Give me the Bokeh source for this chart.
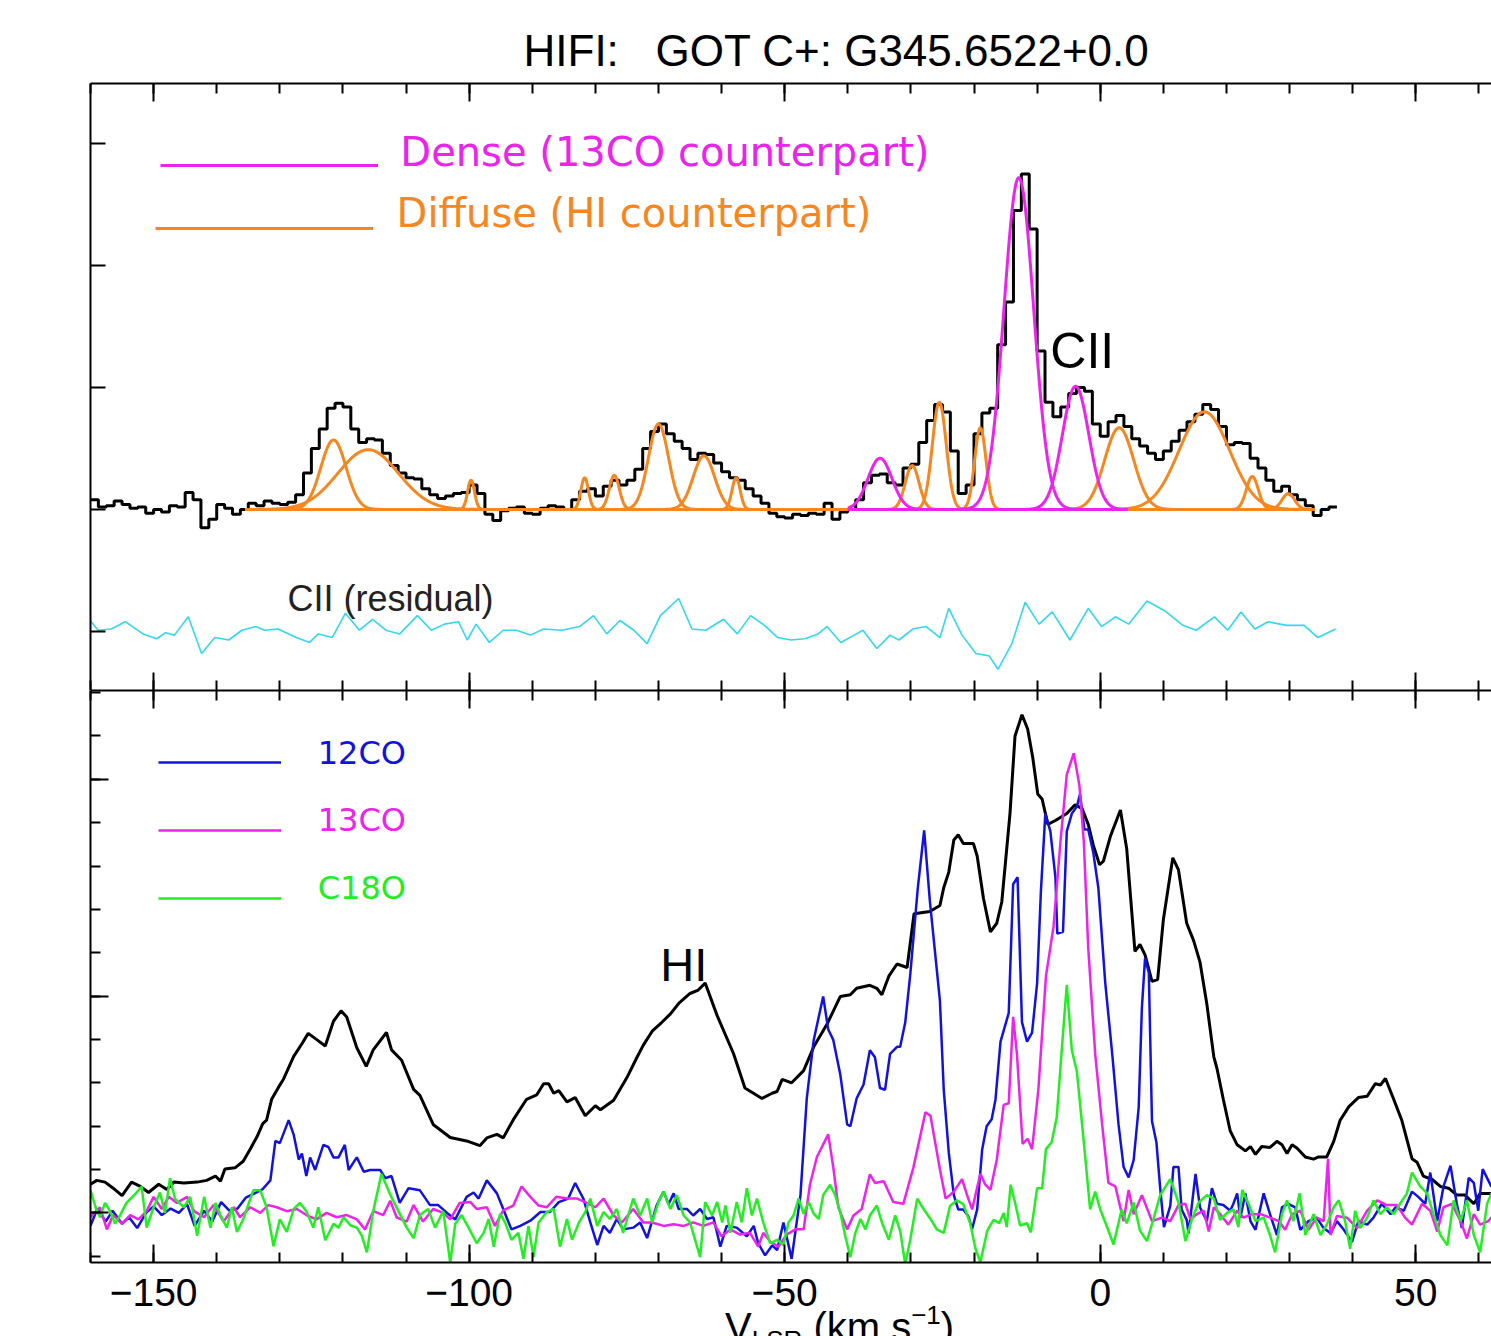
import numpy as np
from bokeh.plotting import figure
from bokeh.layouts import column
from bokeh.models import (LinearAxis, SingleIntervalTicker, Label, Legend,
                          LegendItem, Range1d, Div)
from bokeh.embed import file_html
from bokeh.resources import INLINE

# ---------------- data: top panel (CII) ----------------
cii_v0 = -160.0          # left edge of first channel (km/s)
cii_dv = 1.25            # channel width (km/s)
cii_t = [0.08, 0.02, 0.03, 0.07, 0.04, 0.01, 0.02, -0.03, 0.00, -0.02,
         0.03, 0.02, 0.14, 0.08, -0.15, -0.08, 0.04, 0.01, -0.04, 0.00,
         0.05, 0.03, 0.07, 0.05, 0.04, 0.06, 0.12, 0.30, 0.50, 0.66,
         0.83, 0.87, 0.84, 0.66, 0.55, 0.58, 0.57, 0.46, 0.36, 0.30,
         0.26, 0.25, 0.17, 0.12, 0.09, 0.11, 0.13, 0.14, 0.20, 0.13,
         -0.04, -0.09, -0.01, 0.01, 0.02, -0.03, -0.04, 0.01, 0.03, 0.02,
         0.00, 0.08, 0.15, 0.17, 0.11, 0.19, 0.24, 0.20, 0.24, 0.33,
         0.50, 0.64, 0.70, 0.62, 0.56, 0.50, 0.41, 0.46, 0.45, 0.38,
         0.31, 0.26, 0.24, 0.17, 0.11, 0.05, -0.03, -0.06, -0.07, -0.04,
         -0.05, -0.03, -0.04, 0.05, -0.08, -0.02, 0.00, 0.08, 0.22, 0.28,
         0.29, 0.22, 0.20, 0.34, 0.37, 0.55, 0.73, 0.86, 0.80, 0.48,
         0.13, 0.20, 0.62, 0.79, 0.83, 1.35, 1.70, 2.45, 2.75, 2.30,
         1.30, 0.88, 0.76, 0.84, 0.95, 1.00, 0.97, 0.70, 0.60, 0.72,
         0.77, 0.68, 0.58, 0.52, 0.46, 0.41, 0.48, 0.56, 0.65, 0.72,
         0.78, 0.86, 0.82, 0.68, 0.53, 0.55, 0.54, 0.42, 0.34, 0.24,
         0.15, 0.19, 0.12, 0.08, 0.03, -0.05, 0.00, 0.02]

# Gaussian fit components (centre km/s, peak, sigma km/s)
diffuse_c = [-121.5, -116.0, -99.7, -81.7, -77.0, -70.0, -62.8, -57.7,
             -29.8, -25.5, -19.0, 3.0, 16.5, 24.1, 29.8]
diffuse_a = [0.57, 0.49, 0.24, 0.26, 0.28, 0.70, 0.44, 0.26,
             0.36, 0.88, 0.67, 0.67, 0.80, 0.27, 0.13]
diffuse_s = [2.0, 4.8, 0.55, 0.6, 0.8, 1.6, 1.7, 0.65,
             1.1, 1.1, 0.9, 2.3, 4.0, 0.95, 1.0]
diffuse_span = [-135.5, 34.0]
dense_c = [-34.9, -12.9, -3.9]
dense_a = [0.42, 2.72, 1.01]
dense_s = [1.9, 2.35, 2.1]
dense_span = [-40.0, 4.3]

# residual (zero-centred)
res_v = [-160.2, -158.8, -156.7, -154.5, -151.7, -149.5, -148.1, -146.7, -144.5, -142.4,
         -140.3, -138.1, -136.0, -133.8, -132.4, -130.3, -127.4, -125.3, -123.9, -121.7,
         -119.6, -117.4, -115.3, -113.2, -111.0, -108.2, -106.0, -103.9, -101.7, -100.3,
         -98.9, -96.8, -94.6, -92.5, -90.3, -88.2, -85.3, -82.5, -80.3, -78.2,
         -76.1, -73.9, -71.8, -69.7, -66.8, -64.7, -62.5, -59.7, -57.5, -55.4,
         -53.2, -51.1, -49.0, -46.8, -44.7, -43.3, -41.1, -39.0, -37.6, -35.4,
         -33.3, -31.9, -29.7, -27.6, -25.4, -24.0, -21.9, -19.7, -17.6, -16.2,
         -14.0, -11.9, -9.7, -7.6, -4.8, -1.9, 0.2, 2.4, 4.5, 7.4,
         10.2, 13.1, 15.2, 18.1, 20.2, 22.3, 24.5, 26.6, 29.5, 32.3,
         34.5, 37.3]
res_t = [0.10, 0.01, 0.02, 0.08, -0.02, -0.06, -0.01, -0.03, 0.12, -0.18,
         -0.05, -0.07, 0.01, 0.04, 0.01, 0.02, -0.05, -0.09, -0.02, -0.05,
         0.15, 0.01, 0.10, 0.01, -0.02, 0.13, 0.01, 0.06, 0.08, -0.07,
         0.06, -0.09, 0.01, 0.01, -0.03, 0.02, 0.01, 0.04, 0.13, -0.02,
         0.09, 0.01, -0.10, 0.13, 0.27, 0.02, 0.01, 0.10, -0.02, 0.13,
         0.05, -0.05, -0.07, -0.06, -0.02, 0.04, -0.09, -0.03, 0.01, -0.14,
         -0.03, -0.07, 0.02, 0.04, -0.05, 0.19, -0.03, -0.18, -0.20, -0.31,
         -0.10, 0.24, 0.06, 0.16, -0.07, 0.19, 0.04, 0.12, 0.06, 0.25,
         0.17, 0.05, 0.01, 0.12, 0.01, 0.16, 0.02, 0.08, 0.05, 0.05,
         -0.05, 0.02]

# ---------------- data: bottom panel ----------------
hi_v = [-160.0, -159.0, -157.7, -156.4, -155.0, -153.5, -152.1, -150.8, -149.2, -147.9,
        -146.8, -145.2, -143.1, -141.6, -140.2, -139.4, -138.7, -137.1, -135.8, -134.7,
        -133.6, -132.7, -132.1, -131.3, -130.2, -129.4, -127.8, -126.5, -125.5, -124.1,
        -122.8, -121.5, -120.3, -119.4, -117.8, -116.3, -115.2, -113.1, -112.3, -110.7,
        -108.8, -107.8, -105.7, -103.0, -100.4, -98.3, -97.2, -95.6, -94.6, -93.0,
        -90.9, -89.3, -88.2, -87.4, -86.6, -85.8, -84.5, -83.2, -81.6, -80.0,
        -79.2, -77.1, -75.0, -73.4, -72.4, -71.0, -69.5, -68.1, -66.8, -65.0,
        -63.7, -62.6, -60.7, -58.1, -56.3, -53.6, -52.0, -51.2, -50.4, -48.9,
        -47.0, -45.4, -43.3, -41.2, -39.6, -38.6, -36.5, -35.4, -34.6, -33.5,
        -32.2, -30.6, -29.5, -27.0, -25.4, -24.8, -24.0, -23.2, -22.5, -21.7,
        -20.1, -19.5, -18.5, -17.4, -16.4, -15.6, -14.3, -13.5, -12.4, -11.5,
        -10.7, -9.9, -9.2, -8.3, -7.1, -5.3, -4.0, -2.9, -1.9, -1.1,
        -0.1, 0.5, 1.6, 3.2, 4.2, 5.5, 6.3, 7.1, 8.2, 9.1,
        10.0, 11.5, 12.4, 13.7, 14.8, 15.8, 16.9, 18.0, 18.5, 19.5,
        20.6, 21.7, 23.0, 23.8, 24.6, 25.6, 26.9, 28.0, 28.8, 29.6,
        30.4, 31.2, 32.5, 33.8, 34.6, 35.9, 37.0, 38.0, 39.4, 40.9,
        42.3, 43.6, 44.4, 45.2, 46.5, 47.8, 49.4, 50.2, 51.2, 52.6,
        53.9, 55.2, 56.5, 57.8, 59.2, 60.2, 62.0]
hi_t = [0.66, 0.75, 0.71, 0.57, 0.40, 0.71, 0.61, 0.47, 0.66, 0.54,
        0.71, 0.69, 0.71, 0.75, 0.85, 0.73, 1.01, 1.04, 1.19, 1.47,
        1.76, 2.06, 2.14, 2.62, 2.90, 3.09, 3.61, 3.90, 4.14, 3.99,
        3.85, 4.42, 4.66, 4.52, 3.81, 3.38, 3.76, 4.16, 3.76, 3.52,
        2.85, 2.71, 2.04, 1.74, 1.66, 1.55, 1.73, 1.81, 1.73, 2.15,
        2.62, 2.72, 2.98, 2.98, 2.76, 2.82, 2.56, 2.66, 2.24, 2.47,
        2.38, 2.60, 3.12, 3.59, 3.87, 4.19, 4.39, 4.59, 4.83, 5.06,
        5.14, 5.30, 4.55, 3.67, 2.88, 2.64, 2.76, 2.80, 3.08, 3.00,
        3.28, 3.83, 4.35, 4.99, 5.03, 5.18, 5.25, 5.18, 5.03, 5.46,
        5.74, 5.66, 6.90, 6.95, 7.09, 7.50, 7.86, 8.60, 8.72, 8.52,
        8.52, 8.23, 7.25, 6.48, 6.68, 7.17, 9.21, 11.00, 11.49, 11.16,
        10.51, 9.66, 9.54, 8.96, 9.05, 9.21, 9.41, 9.33, 8.96, 8.48,
        8.03, 8.11, 8.68, 9.29, 8.39, 6.03, 6.19, 5.95, 5.34, 5.38,
        6.76, 8.19, 7.91, 6.68, 6.28, 5.79, 4.81, 3.60, 3.33, 2.62,
        1.89, 1.57, 1.43, 1.53, 1.35, 1.53, 1.51, 1.65, 1.57, 1.37,
        1.57, 1.49, 1.29, 1.24, 1.29, 1.29, 1.65, 2.13, 2.45, 2.66,
        2.69, 2.98, 2.95, 3.10, 2.62, 2.13, 1.25, 1.17, 0.85, 0.77,
        0.61, 0.57, 0.41, 0.41, 0.21, 0.45, 0.45]

co12_v = [-160.0, -158.9, -157.6, -156.5, -155.0, -153.9, -152.6, -151.2, -150.0, -148.7,
          -147.3, -146.0, -144.7, -143.5, -142.0, -140.7, -139.3, -138.0, -136.7, -135.4,
          -134.0, -132.7, -131.5, -130.7, -130.0, -128.6, -127.8, -127.0, -126.5, -125.8,
          -125.2, -124.4, -123.1, -122.3, -121.5, -120.7, -119.7, -119.1, -117.8, -116.7,
          -115.7, -114.1, -113.3, -112.3, -111.0, -109.6, -107.8, -106.2, -104.9, -103.5,
          -102.2, -100.4, -99.3, -98.5, -97.2, -95.6, -94.6, -93.3, -91.9, -90.3,
          -88.7, -87.2, -85.8, -84.3, -83.2, -81.9, -80.8, -79.7, -78.7, -77.7,
          -76.6, -75.6, -74.0, -72.9, -71.8, -70.3, -69.2, -68.4, -67.6, -66.8,
          -65.5, -64.5, -63.4, -62.3, -61.3, -60.2, -59.2, -57.6, -56.0, -54.9,
          -54.2, -53.1, -52.0, -51.2, -50.2, -48.9, -47.5, -46.5, -45.4, -43.9,
          -43.1, -42.3, -41.2, -40.1, -39.6, -38.6, -37.5, -36.5, -35.7, -34.9,
          -34.1, -33.3, -32.2, -31.7, -30.9, -30.1, -28.9, -27.9, -27.0, -25.4,
          -24.8, -24.0, -23.2, -22.5, -21.7, -20.9, -20.3, -19.5, -18.7, -18.0,
          -17.2, -16.6, -15.8, -14.5, -13.8, -13.1, -12.4, -11.6, -10.8, -10.0,
          -9.4, -8.7, -7.9, -7.1, -6.8, -5.9, -5.3, -4.5, -3.7, -3.2,
          -2.5, -1.9, -1.1, -0.3, 0.8, 1.9, 2.9, 3.7, 4.5, 5.3,
          6.1, 6.6, 7.1, 7.7, 8.2, 8.9, 9.5, 10.1, 11.1, 11.6,
          12.4, 12.9, 13.7, 14.0, 15.1, 15.8, 16.9, 17.7, 18.5, 19.5,
          20.6, 21.1, 21.7, 22.2, 23.0, 23.8, 24.6, 25.9, 26.9, 28.0,
          28.8, 29.8, 30.9, 31.7, 33.0, 34.3, 35.4, 36.5, 37.5, 38.6,
          39.9, 40.9, 42.3, 43.3, 44.6, 46.0, 46.8, 48.1, 49.4, 50.4,
          51.5, 52.3, 53.4, 54.4, 55.5, 56.5, 57.3, 58.4, 59.2, 59.9,
          60.6, 62.0]
co12_t = [-0.30, 0.10, -0.20, 0.05, -0.25, -0.10, -0.35, 0.00, 0.15, -0.05,
          0.10, 0.00, 0.20, -0.30, 0.05, -0.20, 0.25, 0.05, 0.10, 0.35,
          0.45, 0.55, 0.75, 1.66, 1.61, 2.14, 1.80, 1.23, 1.37, 0.85,
          1.28, 0.99, 1.57, 1.52, 1.28, 1.28, 1.57, 0.99, 1.28, 0.95,
          0.99, 0.99, 0.80, 0.85, 0.23, 0.57, 0.52, 0.18, 0.18, 0.00,
          -0.15, 0.37, 0.47, 0.33, 0.75, 0.45, 0.09, -0.38, -0.30, -0.18,
          0.02, 0.02, 0.25, 0.33, 0.69, 0.33, -0.22, -0.74, -0.30, -0.46,
          -0.14, -0.38, -0.34, -0.22, -0.58, 0.17, 0.49, 0.20, 0.45, 0.09,
          0.09, -0.06, 0.09, -0.14, -0.10, -0.78, -0.30, -0.34, -0.54, -0.30,
          -0.70, -0.98, -0.75, -0.86, -0.22, -1.06, 0.41, 2.64, 3.99, 4.99,
          4.23, 3.99, 3.20, 2.04, 2.00, 2.64, 2.96, 3.75, 3.59, 2.88,
          2.84, 3.67, 3.83, 3.83, 4.39, 5.50, 7.50, 8.82, 7.20, 4.89,
          2.85, 1.39, 0.41, 0.08, 0.08, -0.08, -0.37, 0.08, 1.47, 2.00,
          2.16, 2.61, 3.95, 4.61, 7.58, 7.74, 4.40, 3.95, 4.16, 5.30,
          7.42, 9.21, 8.80, 7.74, 6.44, 6.48, 8.80, 9.21, 9.37, 9.66,
          8.84, 8.84, 8.31, 7.50, 5.30, 3.67, 2.04, 1.06, 0.82, 1.22,
          2.44, 4.73, 5.87, 5.54, 2.12, 1.63, 0.57, -0.33, 0.16, 1.06,
          1.06, 0.08, -0.16, -0.47, 0.90, 0.13, -0.19, 0.57, 0.21, 0.18,
          0.05, 0.21, 0.45, -0.11, 0.45, -0.19, -0.39, 0.45, -0.03, -0.51,
          0.13, 0.21, 0.13, -0.39, -0.19, -0.11, -0.35, -0.47, -0.19, -0.39,
          -0.67, -0.19, -0.27, -0.11, 0.21, -0.03, 0.13, 0.05, 0.49, 0.37,
          0.21, 0.93, -0.19, 0.61, 1.09, 0.21, -0.35, 0.81, 0.69, 0.05,
          1.01, 0.60]

co13_v = [-160.0, -158.5, -157.4, -156.4, -155.0, -153.7, -152.4, -151.1, -150.0, -148.7,
          -147.6, -146.3, -144.7, -143.6, -142.0, -140.5, -138.9, -137.3, -136.3, -134.7,
          -133.1, -131.8, -130.5, -128.9, -127.3, -125.8, -124.2, -122.6, -121.0, -119.4,
          -117.8, -116.5, -115.2, -113.6, -112.5, -111.5, -109.9, -108.8, -107.3, -105.7,
          -104.1, -103.0, -101.5, -99.8, -98.8, -97.2, -95.9, -94.6, -93.0, -91.7,
          -90.3, -89.0, -87.7, -86.2, -84.5, -82.9, -81.6, -80.0, -78.7, -77.1,
          -75.8, -74.0, -72.4, -71.0, -69.2, -67.6, -66.0, -64.5, -62.9, -61.3,
          -60.0, -58.6, -57.1, -55.5, -54.2, -53.4, -52.3, -51.0, -49.7, -48.3,
          -47.0, -46.0, -44.9, -43.1, -42.3, -41.5, -40.1, -39.1, -37.8, -36.5,
          -35.7, -34.3, -32.8, -31.2, -29.6, -27.7, -26.9, -25.4, -24.5, -23.2,
          -21.9, -21.1, -20.3, -19.0, -18.2, -17.4, -16.4, -15.3, -14.5, -13.8,
          -13.2, -12.3, -11.5, -10.8, -9.8, -8.6, -7.4, -6.3, -5.3, -4.2,
          -3.3, -2.6, -1.9, -0.8, 0.3, 1.3, 2.4, 3.7, 4.5, 5.3,
          6.6, 8.2, 9.8, 11.1, 12.4, 13.5, 14.3, 15.3, 16.4, 17.2,
          18.0, 19.0, 20.3, 21.7, 22.7, 24.0, 25.4, 26.9, 28.3, 29.3,
          30.4, 31.7, 33.0, 34.3, 35.4, 36.1, 36.5, 37.5, 39.1, 40.7,
          42.3, 43.9, 45.4, 47.0, 48.3, 49.4, 51.0, 52.3, 53.4, 54.4,
          55.7, 57.1, 58.1, 59.2, 60.2, 61.5, 62.0]
co13_t = [-0.10, 0.13, -0.38, -0.05, -0.25, -0.05, -0.15, 0.04, 0.37, 0.09,
          0.37, 0.23, 0.37, 0.04, -0.10, 0.18, -0.20, 0.13, -0.10, 0.13,
          0.00, 0.18, 0.13, 0.04, 0.09, -0.05, -0.15, 0.00, -0.10, -0.05,
          -0.15, -0.38, 0.04, -0.05, 0.28, -0.10, -0.20, 0.18, -0.20, 0.09,
          0.00, -0.15, 0.23, 0.25, 0.09, 0.13, -0.30, 0.06, 0.17, 0.61,
          0.37, 0.17, 0.13, 0.37, 0.33, 0.33, 0.25, 0.13, 0.33, -0.06,
          -0.22, 0.09, -0.22, -0.22, -0.30, -0.26, -0.30, -0.22, -0.30, -0.22,
          -0.54, -0.38, -0.50, -0.46, -0.78, -0.46, -0.66, -0.78, -0.50, -0.38,
          -0.38, 0.65, 1.29, 1.81, 1.05, 0.13, -0.38, -0.06, 0.09, 0.89,
          0.69, 0.73, 0.25, 0.21, 1.05, 2.32, 2.24, 1.00, 0.33, 0.49,
          0.78, 0.41, 0.08, 0.90, 0.65, 0.53, 1.22, 2.49, 2.53, 4.52,
          3.67, 1.59, 1.71, 1.47, 2.85, 5.46, 6.60, 8.56, 10.11, 10.60,
          9.86, 8.56, 6.11, 3.67, 2.04, 0.69, 0.61, -0.19, 0.53, -0.03,
          0.41, -0.19, -0.11, -0.19, 0.18, 0.21, -0.15, -0.03, 0.05, -0.43,
          0.13, -0.03, -0.27, 0.05, -0.11, -0.03, -0.03, -0.11, -0.19, -0.39,
          -0.03, 0.05, -0.39, -0.11, -0.19, 1.25, -0.51, -0.07, -0.11, -0.35,
          0.05, 0.29, 0.18, 0.18, -0.11, -0.27, 0.21, 0.05, -0.43, 0.13,
          0.21, -0.19, -0.59, -0.03, -0.27, -0.19, -0.10]

c18o_v = [-160.0, -159.2, -158.5, -157.7, -156.9, -156.1, -155.3, -154.3, -153.0, -151.9,
          -151.1, -150.0, -149.0, -148.2, -147.4, -146.6, -145.2, -144.2, -143.1, -142.0,
          -141.0, -140.2, -139.4, -138.4, -137.6, -136.8, -135.8, -134.9, -134.2, -133.1,
          -132.1, -131.0, -130.0, -128.9, -127.8, -126.8, -125.8, -124.7, -123.9, -122.8,
          -121.5, -120.7, -119.9, -118.8, -117.8, -117.0, -116.2, -115.2, -113.9, -112.5,
          -111.2, -109.9, -108.8, -107.8, -106.5, -105.4, -104.1, -103.0, -102.2, -101.2,
          -100.1, -98.8, -97.7, -96.9, -96.1, -95.1, -94.3, -93.3, -92.2, -91.4,
          -90.6, -89.8, -89.0, -87.7, -86.6, -85.6, -84.5, -83.7, -82.6, -81.6,
          -80.8, -79.7, -78.7, -77.7, -76.6, -75.6, -74.8, -74.0, -72.9, -71.8,
          -71.0, -70.0, -69.2, -68.1, -67.1, -66.0, -65.0, -63.4, -62.6, -61.5,
          -60.7, -59.9, -59.4, -58.6, -57.6, -56.8, -56.0, -55.2, -54.4, -53.4,
          -52.3, -51.2, -50.2, -49.4, -48.6, -47.8, -47.0, -46.2, -45.4, -44.6,
          -43.9, -42.8, -42.0, -41.2, -40.4, -39.6, -38.8, -38.0, -37.2, -36.5,
          -35.4, -34.6, -33.5, -32.5, -31.7, -30.9, -30.1, -29.0, -28.0, -26.9,
          -25.9, -24.8, -23.8, -22.7, -21.7, -20.6, -19.8, -19.0, -17.9, -16.9,
          -16.0, -15.3, -14.8, -14.2, -13.5, -12.7, -11.6, -11.0, -10.0, -9.2,
          -8.6, -7.7, -6.9, -6.1, -5.3, -4.5, -3.7, -2.6, -1.6, -0.8,
          0.0, 1.1, 2.1, 3.4, 4.2, 5.3, 6.3, 7.4, 8.4, 9.5,
          11.1, 12.4, 13.5, 14.5, 15.6, 16.9, 18.0, 19.0, 20.1, 21.1,
          21.9, 22.5, 23.5, 24.6, 25.9, 26.9, 27.7, 28.8, 29.6, 30.6,
          31.6, 32.5, 33.8, 34.9, 35.9, 37.0, 37.8, 38.8, 39.6, 40.4,
          41.2, 42.3, 43.3, 44.4, 45.4, 46.5, 47.5, 48.6, 49.4, 50.7,
          51.8, 52.8, 53.9, 55.0, 56.0, 57.1, 58.1, 59.2, 60.2, 61.3,
          62.0]
c18o_t = [0.52, 0.13, -0.10, 0.23, 0.04, -0.25, -0.05, 0.23, 0.42, 0.61,
          -0.34, 0.13, 0.47, 0.00, 0.80, 0.32, 0.13, 0.37, -0.53, 0.37,
          -0.34, 0.23, -0.05, -0.34, 0.13, -0.44, -0.15, 0.23, 0.52, 0.52,
          0.13, -0.77, -0.15, -0.44, 0.09, 0.23, 0.04, -0.34, 0.13, -0.63,
          -0.25, -0.34, -0.10, -0.29, -0.34, -0.53, -0.91, 0.04, 0.90, 0.42,
          0.04, -0.34, -0.58, -0.05, 0.09, -0.34, 0.04, -1.15, -0.25, -0.05,
          -0.34, -0.70, -0.46, -0.14, -0.78, -0.02, -0.22, -0.62, -0.46, -1.06,
          -0.30, -1.02, -0.22, 0.02, 0.09, -0.78, -0.14, -0.62, -0.22, 0.02,
          0.33, -0.30, 0.02, -0.14, 0.09, -0.46, -0.06, 0.33, -0.06, 0.33,
          -0.22, 0.25, 0.49, 0.09, 0.41, -0.06, -0.22, -1.02, 0.25, -0.06,
          0.25, -0.22, 0.17, -0.46, 0.25, -0.22, 0.57, -0.06, 0.33, -0.22,
          -0.70, -0.62, -0.74, -0.22, -0.06, 0.33, -0.02, 0.25, -0.02, -0.14,
          0.41, 0.65, 0.41, 0.02, -0.54, -1.02, -0.46, -0.14, -0.38, -0.06,
          0.17, -0.22, -0.62, -0.06, -0.42, -1.18, -0.62, 0.33, 0.09, -0.14,
          -0.38, -0.46, 0.16, 0.29, 0.20, -0.24, -0.81, -1.14, -0.41, -0.16,
          -0.24, 0.00, -0.33, 0.65, 0.24, -0.29, -0.24, -0.45, 0.57, 0.57,
          1.47, 1.63, 2.20, 3.75, 5.26, 3.75, 3.26, 1.63, 0.08, 0.49,
          0.08, -0.33, -0.73, 0.08, -0.24, 0.24, -0.41, -0.65, -0.16, 0.41,
          0.78, 0.24, -0.65, -0.16, 0.24, 0.41, 0.33, -0.16, 0.00, 0.08,
          -0.33, 0.53, 0.21, -0.19, -0.11, -0.51, -0.91, -0.03, 0.29, -0.19,
          0.45, -0.51, -0.03, -0.51, -0.27, 0.13, 0.29, -0.19, -0.83, 0.05,
          -0.35, -0.11, 0.29, -0.03, 0.13, -0.03, 0.21, 0.45, 0.93, 0.61,
          0.45, -0.03, -0.51, -0.75, 0.29, -0.19, 0.29, -0.51, -0.91, 0.21,
          0.45]

x_ticks_major = [-150, -100, -50, 0, 50]
x_tick_labels = ["\u2212150", "\u2212100", "\u221250", "0", "50"]

# ---------------- styles ----------------
BLACK = "#000000"
ORANGE = "#f7861e"
MAGENTA = "#ee22ee"
CYAN = "#33d8ee"
BLUE = "#1212e0"
GREEN = "#22ee22"
X_RANGE = (-160.0, 62.0)
TOP_Y = (-1.484, 3.492)
BOT_Y = (-1.144, 12.048)
RES_OFFSET = -1.0
W = 1491
P2_H = 634
DIV_H = 1336 - 690 - P2_H


def style_axis(ax, major_in, minor_in, labels=False):
    ax.major_tick_in = major_in
    ax.major_tick_out = 0
    ax.minor_tick_in = minor_in
    ax.minor_tick_out = 0
    ax.axis_line_width = 2
    ax.major_tick_line_width = 2
    ax.minor_tick_line_width = 2
    ax.axis_line_color = "black"
    ax.major_tick_line_color = "black"
    ax.minor_tick_line_color = "black"
    if not labels:
        ax.major_label_text_font_size = "1px"
        ax.major_label_text_color = None
        ax.major_label_standoff = 0


def base_fig(h, yr, top, bottom):
    p = figure(width=W, height=h, x_range=Range1d(*X_RANGE), y_range=Range1d(*yr),
               output_backend="svg", toolbar_location=None,
               x_axis_location=None, y_axis_location=None,
               min_border_left=90, min_border_right=0,
               min_border_top=top, min_border_bottom=bottom)
    p.grid.grid_line_color = None
    p.outline_line_color = None
    p.background_fill_color = "white"
    p.border_fill_color = "white"
    return p


def x_axes(p, labels_below=False):
    for side in ("above", "below"):
        ax = LinearAxis(ticker=SingleIntervalTicker(interval=50, num_minor_ticks=5))
        lab = labels_below and side == "below"
        style_axis(ax, 18, 10, labels=lab)
        if lab:
            ax.major_label_overrides = dict(zip(x_ticks_major, x_tick_labels))
            ax.major_label_text_font = "Liberation Sans"
            ax.major_label_text_font_size = "39px"
            ax.major_label_text_color = "black"
            ax.major_label_standoff = 16
        p.add_layout(ax, side)


def key_line(p, rend, loc, gw, h):
    # legend used only for its sample line; the coloured text is a Label
    leg = Legend(items=[LegendItem(label=" ", renderers=[rend])], location=loc,
                 glyph_width=gw, glyph_height=h, label_height=h, label_standoff=0,
                 label_text_font_size="1px", label_text_color=None,
                 background_fill_alpha=0, border_line_color=None,
                 padding=0, margin=0, spacing=0)
    p.add_layout(leg)


def text(p, x, y, s, font, size, color):
    p.add_layout(Label(x=x, y=y, text=s, text_align="left", text_baseline="alphabetic",
                       text_font=font, text_font_size=size, text_color=color))


# ---------------- top panel ----------------
p1 = base_fig(690, TOP_Y, 83, 0)
p1.title.text = "HIFI:\u00a0\u00a0\u00a0GOT C+: G345.6522+0.0"
p1.title.align = "left"
p1.title.offset = 433
p1.title.standoff = 18
p1.title.text_font = "Liberation Sans"
p1.title.text_font_size = "44px"
p1.title.text_font_style = "normal"
p1.title.text_color = "black"
x_axes(p1)
ay1 = LinearAxis(ticker=SingleIntervalTicker(interval=1, num_minor_ticks=0))
style_axis(ay1, 15, 0)
p1.add_layout(ay1, "left")

edges = cii_v0 + cii_dv * np.arange(len(cii_t) + 1)
p1.step(edges, np.append(cii_t, cii_t[-1]), mode="after", line_color=BLACK, line_width=3)

vg_d = np.linspace(diffuse_span[0], diffuse_span[1], 1600)
diff_r = []
for c, a, s in zip(diffuse_c, diffuse_a, diffuse_s):
    diff_r.append(p1.line(vg_d, a * np.exp(-0.5 * ((vg_d - c) / s) ** 2),
                          line_color=ORANGE, line_width=3))
vg_m = np.linspace(dense_span[0], dense_span[1], 600)
dense_r = []
for c, a, s in zip(dense_c, dense_a, dense_s):
    dense_r.append(p1.line(vg_m, a * np.exp(-0.5 * ((vg_m - c) / s) ** 2),
                           line_color=MAGENTA, line_width=3))

p1.line(res_v, np.array(res_t) + RES_OFFSET, line_color=CYAN, line_width=1.6)

text(p1, -7.9, 1.299, "CII", "Liberation Sans", "50px", "black")
text(p1, -128.8, -0.730, "CII (residual)", "Liberation Sans", "36px", "#222222")
key_line(p1, dense_r[0], (70, 501), 218, 48)
key_line(p1, diff_r[0], (65, 438), 218, 48)
text(p1, -110.9, 2.934, "Dense (13CO counterpart)", "DejaVu Sans", "40px", MAGENTA)
text(p1, -111.5, 2.434, "Diffuse (HI counterpart)", "DejaVu Sans", "40px", ORANGE)

# ---------------- bottom panel ----------------
p2 = base_fig(P2_H, BOT_Y, 0, P2_H - 572)
x_axes(p2, labels_below=True)
ay2 = LinearAxis(ticker=SingleIntervalTicker(interval=5, num_minor_ticks=5))
style_axis(ay2, 18, 10)
p2.add_layout(ay2, "left")

p2.line(hi_v, hi_t, line_color=BLACK, line_width=3)
r12 = p2.line(co12_v, co12_t, line_color=BLUE, line_width=2.5)
r13 = p2.line(co13_v, co13_t, line_color=MAGENTA, line_width=2.5)
r18 = p2.line(c18o_v, c18o_t, line_color=GREEN, line_width=2.5)

key_line(p2, r12, (68, 480), 123, 40)
key_line(p2, r13, (68, 412), 123, 40)
key_line(p2, r18, (68, 344), 123, 40)
text(p2, -124.0, 10.611, "12CO", "DejaVu Sans", "32px", BLUE)
text(p2, -124.0, 9.066, "13CO", "DejaVu Sans", "32px", MAGENTA)
text(p2, -124.0, 7.493, "C18O", "DejaVu Sans", "32px", GREEN)
text(p2, -69.7, 5.738, "HI", "Liberation Sans", "47px", "black")

xlabel = Div(width=W, height=DIV_H, styles={"overflow": "visible"},
             text=('<div style="position:relative; top:-22px; margin-left:720px; '
                   'font-family:\'Liberation Sans\'; font-size:40px; line-height:40px; '
                   'white-space:nowrap; color:black;">V<sub style="font-size:26px; '
                   'vertical-align:-8px; line-height:0;">LSR</sub> (km s<sup '
                   'style="font-size:26px; vertical-align:17px; line-height:0;">'
                   '\u22121</sup>)</div>'))

layout = column(p1, p2, xlabel, spacing=0)
open("out.html", "w").write(file_html(layout, INLINE))
